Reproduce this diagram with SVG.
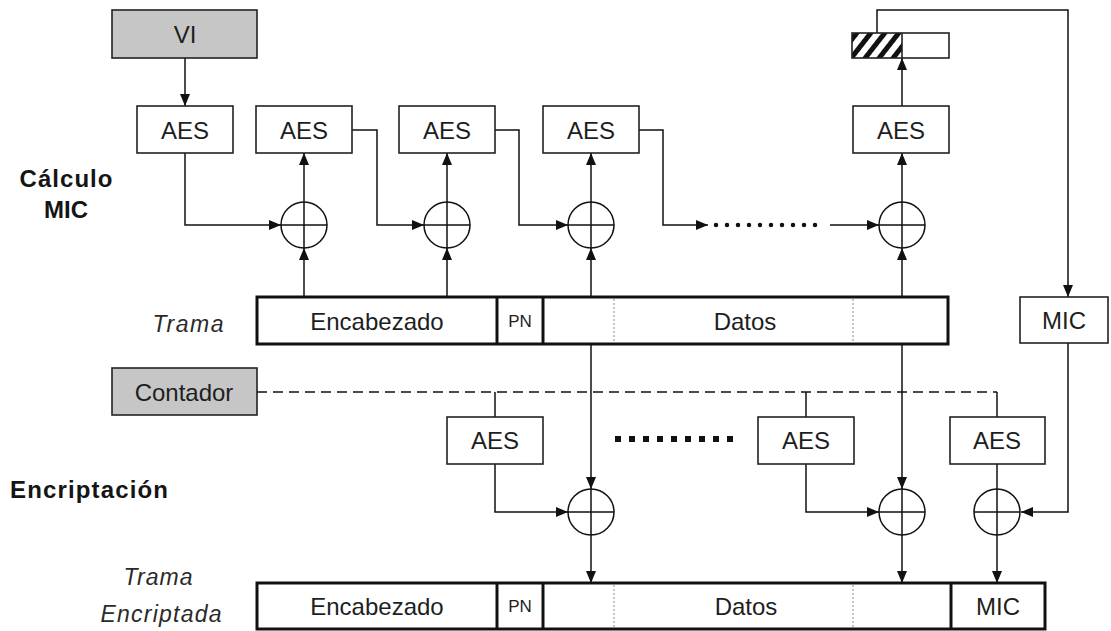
<svg xmlns="http://www.w3.org/2000/svg" width="1111" height="631" viewBox="0 0 1111 631">
<defs>
<marker id="arr" viewBox="0 0 12 10" refX="12" refY="5" markerWidth="12" markerHeight="10" markerUnits="userSpaceOnUse" orient="auto">
<path d="M0,0 L12,5 L0,10 z" fill="#111"/>
</marker>
<pattern id="hatch" patternUnits="userSpaceOnUse" width="11" height="11" patternTransform="rotate(38)">
<rect x="0" y="0" width="5" height="11" fill="#111"/>
</pattern>
</defs>
<style>
.box{fill:#fff;stroke:#222;stroke-width:1.6}
.gray{fill:#c6c6c6;stroke:#222;stroke-width:1.6}
.frame{fill:#fff;stroke:#111;stroke-width:3}
.div{stroke:#111;stroke-width:3}
.dot{stroke:#888;stroke-width:1;stroke-dasharray:2 2}
.ln{fill:none;stroke:#111;stroke-width:1.5}
.ar{fill:none;stroke:#111;stroke-width:1.5;marker-end:url(#arr)}
.xor{fill:#fff;stroke:#111;stroke-width:1.5}
.t{font-family:"Liberation Sans",Arial,sans-serif;font-size:24px;fill:#1e1e1e;text-anchor:middle}
.pn{font-family:"Liberation Sans",Arial,sans-serif;font-size:17px;fill:#1e1e1e;text-anchor:middle}
.lab{font-family:"Liberation Sans",Arial,sans-serif;font-size:24px;font-weight:bold;fill:#151515;text-anchor:middle}
.it{font-family:"Liberation Sans",Arial,sans-serif;font-size:23px;font-style:italic;fill:#2a2a2a;text-anchor:middle}
</style>
<rect width="1111" height="631" fill="#fff"/>

<g id="connectors">
<path class="ar" d="M185,58 V106"/>
<path class="ar" d="M185,153 V225 H281"/>
<path class="ar" d="M304,297 V248"/>
<path class="ar" d="M304,202 V153"/>
<path class="ar" d="M352,130 H377 V225 H424"/>
<path class="ar" d="M447,297 V248"/>
<path class="ar" d="M447,202 V153"/>
<path class="ar" d="M495,130 H519 V225 H568"/>
<path class="ar" d="M591,297 V248"/>
<path class="ar" d="M591,202 V153"/>
<path class="ar" d="M639,130 H663 V225 H708"/>
<path d="M716,225 H822" fill="none" stroke="#111" stroke-width="4.5" stroke-dasharray="0 11" stroke-linecap="round"/>
<path class="ar" d="M830,225 H879"/>
<path class="ar" d="M902,297 V248"/>
<path class="ar" d="M902,202 V153"/>
<path class="ar" d="M902,107 V58"/>
<path class="ar" d="M877,33 V10 H1068 V297"/>
<path class="ar" d="M1068,343 V512 H1021"/>
<path class="ln" d="M257,392 H997" stroke-dasharray="10 6"/>
<path class="ln" d="M997,392 V417"/>
<path class="ln" d="M495,392 V417"/>
<path class="ln" d="M806,392 V417"/>
<path class="ar" d="M495,464 V512 H568"/>
<path class="ar" d="M591,344 V489"/>
<path class="ar" d="M591,535 V583"/>
<path class="ar" d="M806,464 V512 H879"/>
<path class="ar" d="M902,344 V489"/>
<path class="ar" d="M902,535 V583"/>
<path class="ln" d="M997,464 V489"/>
<path class="ar" d="M997,535 V583"/>
<g fill="#111">
<rect x="615" y="436" width="6" height="6"/><rect x="629" y="436" width="6" height="6"/><rect x="643" y="436" width="6" height="6"/><rect x="657" y="436" width="6" height="6"/><rect x="671" y="436" width="6" height="6"/><rect x="685" y="436" width="6" height="6"/><rect x="699" y="436" width="6" height="6"/><rect x="713" y="436" width="6" height="6"/><rect x="727" y="436" width="6" height="6"/>
</g>
</g>

<g id="vi"><rect class="gray" x="112" y="10" width="145" height="48"/><text class="t" x="185" y="43">VI</text></g>
<g id="aes1"><rect class="box" x="137" y="106" width="96" height="47"/><text class="t" x="185" y="139">AES</text></g>
<g id="aes2"><rect class="box" x="256" y="106" width="96" height="47"/><text class="t" x="304" y="139">AES</text></g>
<g id="aes3"><rect class="box" x="399" y="106" width="96" height="47"/><text class="t" x="447" y="139">AES</text></g>
<g id="aes4"><rect class="box" x="543" y="106" width="96" height="47"/><text class="t" x="591" y="139">AES</text></g>
<g id="aes5"><rect class="box" x="853" y="106" width="96" height="47"/><text class="t" x="901" y="139">AES</text></g>
<g id="tag"><rect x="852" y="33" width="50" height="25" fill="url(#hatch)"/><rect x="852" y="33" width="97" height="25" fill="none" stroke="#222" stroke-width="1.6"/><line x1="902" y1="33" x2="902" y2="58" stroke="#222" stroke-width="1.6"/></g>

<g id="xor1"><circle class="xor" cx="304" cy="225" r="23"/><path class="ln" d="M281,225 H327 M304,202 V248"/></g>
<g id="xor2"><circle class="xor" cx="447" cy="225" r="23"/><path class="ln" d="M424,225 H470 M447,202 V248"/></g>
<g id="xor3"><circle class="xor" cx="591" cy="225" r="23"/><path class="ln" d="M568,225 H614 M591,202 V248"/></g>
<g id="xor4"><circle class="xor" cx="902" cy="225" r="23"/><path class="ln" d="M879,225 H925 M902,202 V248"/></g>

<g id="mic-box"><rect class="box" x="1020" y="297" width="88" height="46"/><text class="t" x="1064" y="329">MIC</text></g>

<g id="trama">
<rect class="frame" x="257" y="297" width="691" height="47"/>
<line class="div" x1="497" y1="297" x2="497" y2="344"/>
<line class="div" x1="543" y1="297" x2="543" y2="344"/>
<line class="dot" x1="614" y1="299" x2="614" y2="342"/>
<line class="dot" x1="853" y1="299" x2="853" y2="342"/>
<text class="t" x="377" y="330">Encabezado</text>
<text class="pn" x="520" y="327">PN</text>
<text class="t" x="745" y="330">Datos</text>
</g>

<g id="contador"><rect class="gray" x="112" y="368" width="145" height="47"/><text class="t" x="184" y="401">Contador</text></g>
<g id="aesb1"><rect class="box" x="447" y="417" width="96" height="47"/><text class="t" x="495" y="449">AES</text></g>
<g id="aesb2"><rect class="box" x="758" y="417" width="96" height="47"/><text class="t" x="806" y="449">AES</text></g>
<g id="aesb3"><rect class="box" x="950" y="417" width="95" height="47"/><text class="t" x="997" y="449">AES</text></g>

<g id="xorb1"><circle class="xor" cx="591" cy="512" r="23"/><path class="ln" d="M568,512 H614 M591,489 V535"/></g>
<g id="xorb2"><circle class="xor" cx="902" cy="512" r="23"/><path class="ln" d="M879,512 H925 M902,489 V535"/></g>
<g id="xorb3"><circle class="xor" cx="997" cy="512" r="23"/><path class="ln" d="M974,512 H1020 M997,489 V535"/></g>

<g id="trama-enc">
<rect class="frame" x="257" y="583" width="788" height="46"/>
<line class="div" x1="497" y1="583" x2="497" y2="629"/>
<line class="div" x1="543" y1="583" x2="543" y2="629"/>
<line class="div" x1="951" y1="583" x2="951" y2="629"/>
<line class="dot" x1="614" y1="585" x2="614" y2="627"/>
<line class="dot" x1="853" y1="585" x2="853" y2="627"/>
<text class="t" x="377" y="615">Encabezado</text>
<text class="pn" x="520" y="612">PN</text>
<text class="t" x="746" y="615">Datos</text>
<text class="t" x="998" y="615">MIC</text>
</g>

<g id="labels">
<text class="lab" x="66" y="187" textLength="93" lengthAdjust="spacing">Cálculo</text>
<text class="lab" x="66" y="218">MIC</text>
<text class="lab" x="89" y="498" textLength="158" lengthAdjust="spacing">Encriptación</text>
<text class="it" x="188" y="332" textLength="71" lengthAdjust="spacing">Trama</text>
<text class="it" x="158" y="585" textLength="69" lengthAdjust="spacing">Trama</text>
<text class="it" x="161" y="622" textLength="121" lengthAdjust="spacing">Encriptada</text>
</g>
</svg>
